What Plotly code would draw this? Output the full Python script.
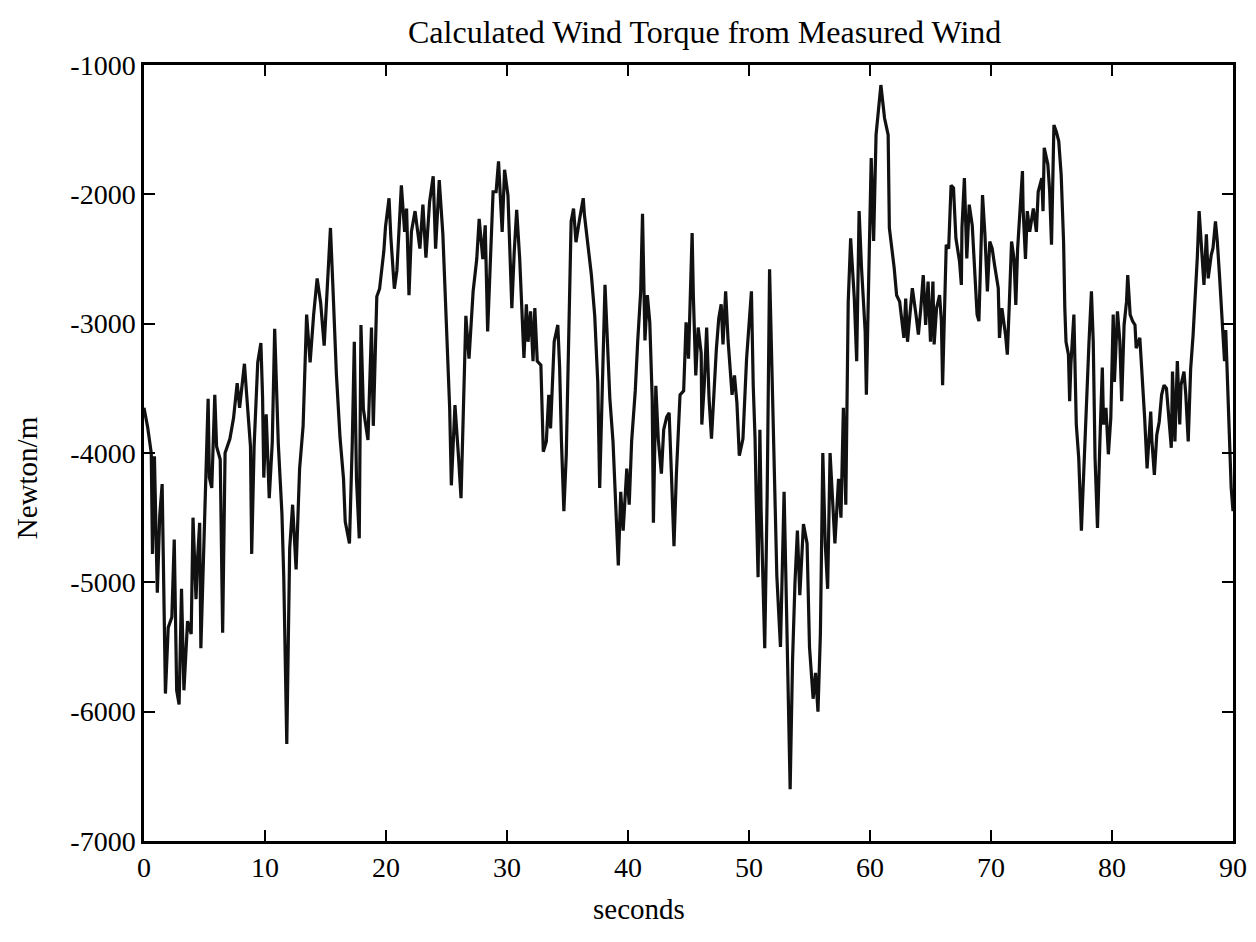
import plotly.graph_objects as go

# Time (seconds) and calculated wind torque (Newton/m)
time_s = [
    0.0, 0.3, 0.6, 0.7, 0.86, 1.1, 1.3, 1.5, 1.77, 2.0, 2.3, 2.5, 2.7, 2.9, 3.1, 3.3, 3.6, 3.9, 4.05, 4.3,
    4.4, 4.6, 4.7, 4.9, 5.1, 5.3, 5.4, 5.6, 5.85, 6.0, 6.3, 6.5, 6.7, 7.1, 7.4, 7.7, 7.9, 8.3, 8.5, 8.8,
    8.9, 9.1, 9.4, 9.66, 9.8, 9.9, 10.1, 10.35, 10.6, 10.8,
    11.1, 11.4, 11.55, 11.8, 12.04, 12.28, 12.57, 12.86, 13.15, 13.44, 13.73, 14.02, 14.31, 14.6, 14.89,
    15.18, 15.41, 15.61, 15.9, 16.2, 16.49, 16.63, 16.98, 17.21, 17.38, 17.56, 17.79, 17.93, 18.13, 18.51,
    18.8, 18.95, 19.24, 19.47, 19.82, 19.96, 20.25, 20.4, 20.69,
    20.9, 21.27, 21.54, 21.7, 21.9, 22.1, 22.4, 22.6, 22.8, 23.05, 23.3, 23.6, 23.9, 24.1, 24.4, 24.7,
    25.0, 25.26, 25.4, 25.7, 26.0, 26.2, 26.4, 26.6, 26.86, 27.2, 27.5, 27.7, 28.0, 28.2, 28.4, 28.7,
    28.85, 29.1, 29.3, 29.6, 29.8, 30.08, 30.4, 30.6, 30.8, 31.05, 31.3,
    31.4, 31.6, 31.74, 31.95, 32.15, 32.3, 32.5, 32.8, 33.0, 33.25, 33.45, 33.6, 33.9, 34.2, 34.35, 34.5,
    34.7, 34.9, 35.1, 35.3, 35.5, 35.7, 36.0, 36.3, 36.4, 36.7, 36.97, 37.25, 37.5, 37.66, 37.85, 38.1,
    38.3, 38.5, 38.76, 39.0, 39.2, 39.4, 39.6, 39.9, 40.1, 40.3, 40.6, 40.8, 41.05, 41.2,
    41.4, 41.6, 41.8, 42.0, 42.1, 42.3, 42.5, 42.76, 42.95, 43.2, 43.4, 43.6, 43.8, 44.0, 44.3, 44.6,
    44.8, 45.0, 45.15, 45.3, 45.4, 45.6, 45.8, 46.05, 46.1, 46.3, 46.5, 46.7, 46.9, 47.1, 47.3, 47.5,
    47.7, 47.85, 48.07, 48.27, 48.46, 48.6, 48.8, 49.0, 49.2, 49.5, 49.8, 50.0, 50.2, 50.35, 50.5, 50.6,
    50.75, 50.9, 51.0, 51.3, 51.5, 51.7, 51.9,
    52.0, 52.3, 52.6, 52.9, 53.1, 53.4, 53.6, 53.8, 54.0, 54.2, 54.5, 54.8, 55.0, 55.3, 55.5, 55.7,
    55.9, 56.1, 56.3, 56.5, 56.7, 56.9, 57.1, 57.4, 57.6, 57.8, 58.0, 58.2,
    58.4, 58.7, 58.9, 59.1, 59.3, 59.6, 59.7, 59.9, 60.1, 60.3, 60.5, 60.9, 61.2, 61.5, 61.6, 62.0,
    62.2, 62.45, 62.8, 62.95, 63.1, 63.3, 63.5, 63.8, 64.0, 64.2, 64.4, 64.6, 64.8, 65.0, 65.2, 65.3,
    65.5, 65.75, 65.9, 66.0, 66.2, 66.3, 66.5, 66.7, 66.9, 67.1, 67.4, 67.55, 67.6, 67.8, 68.0, 68.2,
    68.45, 68.65, 68.85, 69.0, 69.1, 69.3, 69.5, 69.7, 69.9, 70.1, 70.3, 70.6, 70.7, 70.9, 71.2, 71.35,
    71.5, 71.7, 71.9, 72.05, 72.2, 72.4, 72.6,
    72.65, 72.85, 73.0, 73.2, 73.5, 73.75, 73.9, 74.2, 74.3, 74.4, 74.7, 74.85, 75.0, 75.2, 75.4, 75.6,
    75.8, 76.0, 76.1, 76.2, 76.4, 76.5, 76.6, 76.85, 77.05, 77.25, 77.47, 77.7, 77.9, 78.1, 78.3, 78.45,
    78.6, 78.8, 79.0, 79.2, 79.3, 79.5, 79.7, 79.9, 80.1, 80.2, 80.45, 80.65, 80.8, 81.0, 81.2, 81.3,
    81.5, 81.7, 81.9, 82.0, 82.3, 82.5, 82.7, 82.9,
    83.2, 83.3, 83.5, 83.7, 83.9, 84.1, 84.3, 84.5, 84.7, 84.9, 85.0, 85.2, 85.4, 85.6, 85.7, 85.95,
    86.1, 86.3, 86.4, 86.5, 86.7, 86.9, 87.05, 87.2, 87.4, 87.6, 87.8, 87.95, 88.2, 88.35, 88.55, 88.7,
    88.9, 89.1, 89.3, 89.4, 89.55, 89.7, 89.85, 90.0,
]

torque = [
    -3650, -3800, -4000, -4780, -4025, -5080, -4485, -4240, -5860, -5350, -5270, -4670, -5835, -5945, -5050, -5835,
    -5300, -5400, -4500, -5130, -4860, -4540, -5510, -4860, -4320, -3580, -4190, -4270, -3550, -3950, -4050, -5390,
    -4000, -3890, -3730, -3460, -3650, -3310, -3570, -3950, -4780, -3950, -3300, -3150, -3570, -4190, -3700, -4350,
    -3920, -3040,
    -3930, -4470, -4960, -6250, -4740, -4400, -4900, -4120, -3790, -2930, -3300, -2930, -2650, -2840, -3170,
    -2710, -2260, -2710, -3390, -3880, -4200, -4530, -4700, -3930, -3140, -4200, -4660, -3010, -3660, -3900,
    -3030, -3790, -2790, -2730, -2440, -2250, -2030, -2330, -2730,
    -2590, -1930, -2290, -2110, -2780, -2290, -2130, -2260, -2420, -2080, -2490, -2060, -1860, -2420, -1890, -2310,
    -3010, -3650, -4250, -3630, -4040, -4350, -3650, -2940, -3270, -2750, -2500, -2190, -2500, -2240, -3060, -2310,
    -1980, -1980, -1745, -2290, -1810, -2010, -2880, -2440, -2120, -2500, -3160,
    -3265, -2850, -3140, -2905, -3290, -2880, -3290, -3320, -3990, -3910, -3550, -3810, -3140, -3010, -3340, -3910,
    -4450, -4010, -3140, -2210, -2110, -2370, -2190, -2030, -2160, -2420, -2620, -2940, -3450, -4270, -3600, -2700,
    -3140, -3580, -3910, -4430, -4870, -4300, -4600, -4120, -4400, -3910, -3520, -3140, -2750, -2150,
    -3130, -2780, -2990, -3580, -4540, -3480, -3890, -4160, -3820, -3720, -3690, -4190, -4720, -4160, -3550, -3520,
    -2990, -3270, -2820, -2300, -2780, -3400, -3030, -3230, -3780, -3480, -3030, -3580, -3890, -3480, -3200, -2960,
    -2850, -3160, -2750, -3130, -3340, -3550, -3400, -3610, -4020, -3890, -3270, -2960, -2750, -3480, -3890, -4370,
    -4960, -3820, -4440, -5510, -4340, -2580, -3400,
    -3800, -4950, -5500, -4300, -5200, -6600, -5600, -5000, -4600, -5100, -4550, -4700, -5500, -5900, -5700, -6000,
    -5400, -4000, -4700, -5050, -4000, -4400, -4700, -4200, -4500, -3650, -4400, -2830,
    -2340, -2800, -3290, -2130, -2570, -3060, -3550, -2620, -1720, -2360, -1540, -1155, -1410, -1540, -2260, -2570,
    -2780, -2830, -3110, -2805, -3140, -2930, -2725, -2930, -3085, -2880, -2625, -3010, -2675, -3140, -2675, -3160,
    -2880, -2780, -2980, -3475, -2855, -2390, -2420, -1930, -1950, -2340, -2520, -2700, -2260, -1875, -2495, -2080,
    -2240, -2625, -2930, -2980, -2570, -2005, -2315, -2750, -2365, -2420, -2550, -2725, -3110, -2880, -3085, -3240,
    -2880, -2365, -2495, -2855, -2420, -2130, -1820,
    -2110, -2500, -2130, -2290, -2110, -2290, -1980, -1875, -2130, -1640, -1770, -1980, -2390, -1465, -1515, -1590,
    -1850, -2370, -2880, -3140, -3240, -3600, -3320, -2930, -3780, -4040, -4600, -4040, -3650, -3140, -2750, -3140,
    -4040, -4580, -3910, -3340, -3780, -3650, -4010, -3730, -2930, -3450, -2905, -3140, -3600, -3010, -2830, -2625,
    -2930, -2980, -3010, -3190, -3110, -3400, -3730, -4120,
    -3680, -3910, -4170, -3860, -3760, -3550, -3475, -3500, -3710, -3960, -3370, -3910, -3290, -3780, -3475, -3370,
    -3550, -3910, -3630, -3350, -3090, -2780, -2490, -2130, -2415, -2700, -2310, -2650, -2470, -2415, -2210, -2360,
    -2650, -2980, -3290, -3050, -3500, -3860, -4270, -4450,
]

x_tick_values = [0, 10, 20, 30, 40, 50, 60, 70, 80, 90]
x_tick_labels = ["0", "10", "20", "30", "40", "50", "60", "70", "80", "90"]
y_tick_values = [-7000, -6000, -5000, -4000, -3000, -2000, -1000]
y_tick_labels = ["-7000", "-6000", "-5000", "-4000", "-3000", "-2000", "-1000"]

chart_title = "Calculated Wind Torque from Measured Wind"
x_title = "seconds"
y_title = "Newton/m"

FONT = "Liberation Serif, Times New Roman, serif"

fig = go.Figure()
fig.add_trace(go.Scatter(
    x=time_s, y=torque, mode="lines",
    line=dict(color="#111111", width=3.2),
    showlegend=False,
))

axis_common = dict(
    showgrid=False, zeroline=False, showline=True, linecolor="black", linewidth=2.5,
    mirror="ticks", ticks="inside", ticklen=11, tickwidth=2, tickcolor="black",
    tickfont=dict(family=FONT, size=28, color="black"),
)

fig.update_layout(
    width=1256, height=942,
    paper_bgcolor="white", plot_bgcolor="white",
    margin=dict(l=136, r=31, t=57, b=109),
    xaxis=dict(range=[0, 90], tickvals=x_tick_values, ticktext=x_tick_labels, **axis_common),
    yaxis=dict(range=[-7000, -1000], tickvals=y_tick_values, ticktext=y_tick_labels, **axis_common),
    annotations=[
        dict(text=chart_title, xref="paper", yref="paper", x=0.515, y=1.042,
             xanchor="center", yanchor="middle", showarrow=False,
             font=dict(family=FONT, size=32, color="black")),
        dict(text=x_title, xref="paper", yref="paper", x=0.455, y=-0.088,
             xanchor="center", yanchor="middle", showarrow=False,
             font=dict(family=FONT, size=29, color="black")),
        dict(text=y_title, xref="paper", yref="paper", x=-0.108, y=0.468,
             xanchor="center", yanchor="middle", showarrow=False, textangle=-90,
             font=dict(family=FONT, size=29, color="black")),
    ],
)

fig.write_html("out.html")
